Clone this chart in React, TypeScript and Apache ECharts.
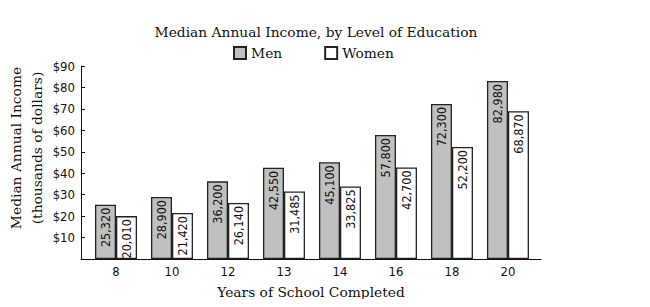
import React, { useEffect, useRef } from "react";
import * as echarts from "echarts";

const categories = ["8", "10", "12", "13", "14", "16", "18", "20"];
const menIncome = [25320, 28900, 36200, 42550, 45100, 57800, 72300, 82980];
const womenIncome = [20010, 21420, 26140, 31485, 33825, 42700, 52200, 68870];
const yTicks = [0, 10, 20, 30, 40, 50, 60, 70, 80, 90];

const SERIF = "'DejaVu Serif', serif";
const COND = "'DejaVu Sans Condensed', 'DejaVu Sans', sans-serif";

const fmt = (n: number) => n.toLocaleString("en-US");

export default function App() {
  const ref = useRef<HTMLDivElement>(null);
  useEffect(() => {
    if (!ref.current) return;
    const chart = echarts.init(ref.current, null, { renderer: "svg" });
    const toData = (arr: number[]) => arr.map((v, i) => [i, v / 1000, v]);
    const labelCfg = {
      show: true,
      position: "insideTop",
      rotate: 90,
      align: "right",
      verticalAlign: "middle",
      distance: 3,
      color: "#111",
      fontFamily: COND,
      fontSize: 12.5,
      formatter: (p: any) => fmt(p.value[2]),
    };
    chart.setOption({
      animation: false,
      backgroundColor: "#fff",
      title: {
        text: "Median Annual Income, by Level of Education",
        left: 311,
        textAlign: "center",
        top: 20,
        textStyle: { fontFamily: SERIF, fontSize: 13.8, fontWeight: "normal", color: "#111" },
      },
      legend: {
        left: 233,
        top: 46,
        padding: 0,
        itemWidth: 12,
        itemHeight: 12,
        itemGap: 42,
        icon: "rect",
        textStyle: { fontFamily: SERIF, fontSize: 13.8, color: "#111", padding: [0, 0, 0, 0] },
        data: ["Men", "Women"],
      },
      grid: { left: 81, right: 109, top: 66, bottom: 48 },
      xAxis: {
        type: "value",
        min: -0.625,
        max: 7.59,
        splitLine: { show: false },
        axisTick: { show: false },
        axisLine: { show: true, onZero: false, lineStyle: { color: "#111", width: 1 } },
        axisLabel: {
          customValues: categories.map((_, i) => i),
          formatter: (v: number) => categories[Math.round(v)] ?? "",
          fontFamily: COND,
          fontSize: 13,
          color: "#111",
          margin: 6,
        },
        name: "Years of School Completed",
        nameLocation: "middle",
        nameGap: 26,
        nameTextStyle: { fontFamily: SERIF, fontSize: 13.8, color: "#111" },
      },
      yAxis: {
        type: "value",
        min: yTicks[0],
        max: yTicks[yTicks.length - 1],
        interval: 10,
        splitLine: { show: false },
        axisLine: { show: true, onZero: false, lineStyle: { color: "#111", width: 1 } },
        axisTick: { show: true, inside: true, length: 4, lineStyle: { color: "#111" } },
        axisLabel: {
          formatter: (v: number) => (v === 0 ? "" : "$" + v),
          fontFamily: COND,
          fontSize: 13,
          color: "#111",
          margin: 6,
        },
      },
      graphic: [
        {
          type: "text",
          x: 26,
          y: 148,
          rotation: Math.PI / 2,
          style: {
            text: "Median Annual Income\n(thousands of dollars)",
            fontFamily: SERIF,
            fontSize: 13.8,
            lineHeight: 21,
            fill: "#111",
            textAlign: "center",
            textVerticalAlign: "middle",
          },
        },
      ],
      series: [
        {
          name: "Men",
          type: "bar",
          data: toData(menIncome),
          barWidth: 21,
          barGap: "0%",
          itemStyle: { color: "#c0c0c0", borderColor: "#222", borderWidth: 1.3 },
          label: labelCfg,
        },
        {
          name: "Women",
          type: "bar",
          data: toData(womenIncome),
          barWidth: 21,
          barGap: "0%",
          itemStyle: { color: "#ffffff", borderColor: "#222", borderWidth: 1.3 },
          label: labelCfg,
        },
      ],
    });
    return () => chart.dispose();
  }, []);
  return <div ref={ref} style={{ width: 650, height: 307, margin: -8 }} />;
}
